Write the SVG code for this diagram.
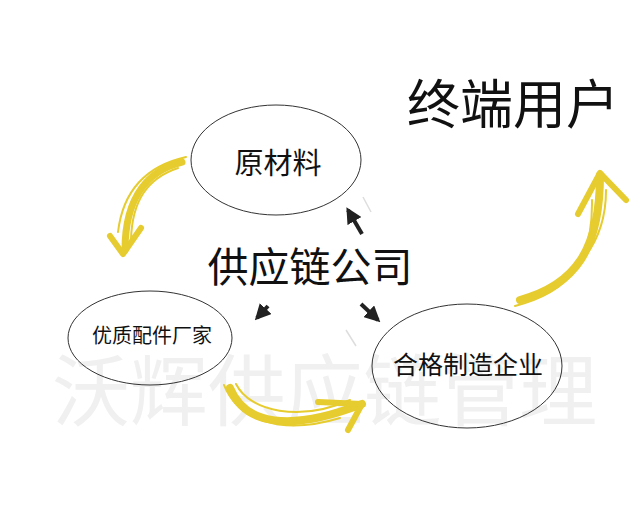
<svg xmlns="http://www.w3.org/2000/svg" width="640" height="523" viewBox="0 0 640 523">
<defs>
<marker id="ah" viewBox="0 0 10 10" refX="8" refY="5" markerWidth="4" markerHeight="4" orient="auto"><path d="M0,0 L10,5 L0,10 z" fill="#222"/></marker>
</defs>
<style>
.node ellipse{fill:none;stroke:#333;stroke-width:1}
.t{font-family:"Noto Sans CJK SC","Noto Sans",sans-serif;fill:#111;text-anchor:middle}
.wm{font-family:"Noto Sans CJK SC",sans-serif;fill:#f0f0f0;font-size:78px}
.y{fill:none;stroke:#e6cc2e;stroke-linecap:round;stroke-linejoin:round}
.k{fill:none;stroke:#222;stroke-width:4;marker-end:url(#ah)}
</style>
<rect width="640" height="523" fill="#fff"/>
<text class="wm" x="52" y="420" textLength="545" lengthAdjust="spacingAndGlyphs">沃辉供应链管理</text>
<g id="connectors">
<g id="arrow-left">
<path class="y" stroke-width="7" d="M182,162 C150,170 125,195 125,250"/>
<path class="y" stroke-width="2" d="M178,168 C148,178 132,200 131,240"/>
<path class="y" stroke-width="2" d="M186,157 C155,164 124,182 118,232"/>
<path class="y" stroke-width="6" d="M110,236 L123,254 L141,228"/>
</g>
<g id="arrow-bottom">
<path class="y" stroke-width="8" d="M230,388 C245,425 290,432 362,404"/>
<path class="y" stroke-width="2" d="M224,385 C238,420 280,436 340,418"/>
<path class="y" stroke-width="2" d="M236,384 C250,412 300,422 350,400"/>
<path class="y" stroke-width="6" d="M318,402 L362,404 L348,430"/>
</g>
<g id="arrow-right">
<path class="y" stroke-width="8" d="M520,300 C575,285 600,250 600,175"/>
<path class="y" stroke-width="2" d="M515,306 C570,292 593,262 592,200"/>
<path class="y" stroke-width="2" d="M528,296 C580,276 606,240 606,190"/>
<path class="y" stroke-width="6" d="M578,214 L600,173 L626,200"/>
</g>
<line class="k" x1="362" y1="234" x2="348" y2="210"/>
<line class="k" x1="361" y1="304" x2="378" y2="320"/>
<line class="k" x1="268" y1="306" x2="257" y2="318"/>
<line x1="363" y1="197" x2="371" y2="212" stroke="#ddd" stroke-width="1.5"/>
<line x1="346" y1="330" x2="356" y2="346" stroke="#ddd" stroke-width="1.5"/>
</g>
<g id="node-raw" class="node">
<ellipse cx="276" cy="160" rx="85" ry="55"/>
<text class="t" x="278" y="174" font-size="29">原材料</text>
</g>
<g id="node-parts" class="node">
<ellipse cx="150" cy="338" rx="82" ry="47"/>
<text class="t" x="152" y="343" font-size="20">优质配件厂家</text>
</g>
<g id="node-mfg" class="node">
<ellipse cx="467" cy="366" rx="95" ry="62"/>
<text class="t" x="468" y="374" font-size="25">合格制造企业</text>
</g>
<g id="node-center">
<text class="t" x="310" y="282" font-size="41">供应链公司</text>
</g>
<g id="node-user">
<text class="t" x="513" y="124" font-size="53">终端用户</text>
</g>
</svg>
